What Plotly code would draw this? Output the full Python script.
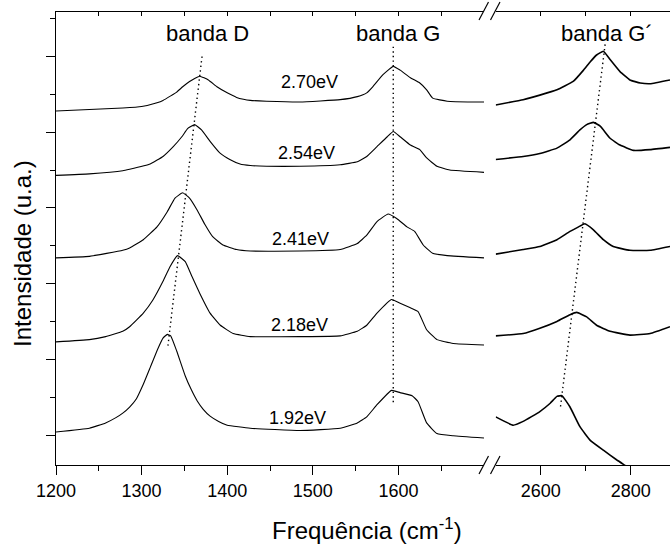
import plotly.graph_objects as go

# ---------------- data ----------------
# Left panel: D and G bands (cm^-1), intensities in arbitrary units (stacked)
f_270_L = [1200, 1239, 1278, 1300, 1318, 1325, 1334, 1341, 1348, 1356, 1362, 1368, 1378, 1388, 1400, 1411, 1419, 1427, 1446, 1485, 1532, 1552, 1563, 1570, 1582, 1594, 1602, 1614, 1625, 1633, 1640, 1657, 1687, 1700]
i_270_L = [4.28, 4.30, 4.32, 4.34, 4.39, 4.42, 4.48, 4.53, 4.60, 4.67, 4.71, 4.74, 4.69, 4.60, 4.52, 4.46, 4.435, 4.42, 4.41, 4.40, 4.43, 4.47, 4.52, 4.60, 4.76, 4.87, 4.82, 4.72, 4.65, 4.56, 4.45, 4.41, 4.40, 4.40]

f_254_L = [1200, 1239, 1278, 1286, 1310, 1325, 1337, 1347, 1354, 1362, 1370, 1380, 1392, 1403, 1415, 1427, 1446, 1485, 1532, 1552, 1563, 1575, 1587, 1594, 1602, 1614, 1625, 1633, 1645, 1660, 1700]
i_254_L = [3.43, 3.45, 3.49, 3.51, 3.58, 3.68, 3.81, 3.94, 4.05, 4.10, 4.03, 3.88, 3.72, 3.64, 3.58, 3.56, 3.55, 3.55, 3.57, 3.61, 3.68, 3.81, 3.94, 4.01, 3.94, 3.83, 3.77, 3.66, 3.55, 3.50, 3.47]

f_241_L = [1200, 1239, 1278, 1286, 1302, 1318, 1330, 1339, 1348, 1356, 1365, 1374, 1383, 1395, 1411, 1427, 1485, 1532, 1552, 1563, 1575, 1588, 1598, 1610, 1619, 1629, 1640, 1657, 1700]
i_241_L = [2.34, 2.36, 2.44, 2.47, 2.58, 2.75, 2.95, 3.13, 3.20, 3.13, 2.97, 2.78, 2.62, 2.51, 2.45, 2.43, 2.43, 2.45, 2.53, 2.64, 2.82, 2.92, 2.86, 2.75, 2.69, 2.51, 2.40, 2.37, 2.34]

f_218_L = [1200, 1239, 1258, 1278, 1286, 1302, 1313, 1325, 1333, 1342, 1351, 1359, 1368, 1380, 1392, 1407, 1427, 1485, 1532, 1552, 1563, 1575, 1592, 1602, 1614, 1623, 1633, 1645, 1664, 1700]
i_218_L = [1.23, 1.26, 1.30, 1.37, 1.43, 1.61, 1.78, 2.03, 2.22, 2.37, 2.29, 2.09, 1.87, 1.61, 1.45, 1.34, 1.30, 1.30, 1.31, 1.37, 1.45, 1.61, 1.79, 1.74, 1.68, 1.63, 1.39, 1.26, 1.21, 1.19]

f_192_L = [1200, 1239, 1258, 1270, 1278, 1286, 1294, 1302, 1310, 1319, 1325, 1330, 1334, 1341, 1351, 1358, 1365, 1372, 1380, 1390, 1400, 1427, 1485, 1532, 1552, 1563, 1575, 1592, 1602, 1616, 1623, 1633, 1645, 1664, 1700]
i_192_L = [0.04, 0.09, 0.16, 0.23, 0.29, 0.37, 0.48, 0.67, 0.89, 1.14, 1.28, 1.33, 1.31, 1.11, 0.78, 0.60, 0.45, 0.34, 0.25, 0.18, 0.13, 0.09, 0.06, 0.09, 0.16, 0.24, 0.40, 0.59, 0.56, 0.52, 0.44, 0.16, 0.02, -0.01, -0.04]

# Right panel: G' band (cm^-1)
f_270_R = [2500, 2561, 2598, 2636, 2672, 2695, 2710, 2724, 2739, 2754, 2776, 2798, 2821, 2843, 2887]
i_270_R = [4.36, 4.43, 4.49, 4.56, 4.67, 4.82, 4.93, 5.02, 5.07, 4.96, 4.80, 4.69, 4.65, 4.64, 4.69]

f_254_R = [2500, 2561, 2598, 2636, 2665, 2687, 2702, 2717, 2732, 2754, 2776, 2806, 2843, 2887]
i_254_R = [3.64, 3.68, 3.72, 3.79, 3.90, 4.03, 4.10, 4.13, 4.08, 3.92, 3.83, 3.76, 3.77, 3.80]

f_241_R = [2500, 2561, 2598, 2636, 2665, 2684, 2698, 2717, 2739, 2761, 2798, 2843, 2887]
i_241_R = [2.39, 2.45, 2.49, 2.58, 2.69, 2.75, 2.79, 2.71, 2.58, 2.49, 2.44, 2.44, 2.49]

f_218_R = [2500, 2561, 2598, 2636, 2665, 2680, 2702, 2724, 2754, 2798, 2843, 2887]
i_218_R = [1.31, 1.34, 1.41, 1.50, 1.59, 1.62, 1.56, 1.45, 1.37, 1.32, 1.34, 1.43]

f_192_R = [2500, 2539, 2561, 2598, 2621, 2636, 2647, 2665, 2687, 2710, 2739, 2769, 2787, 2800]
i_192_R = [0.24, 0.13, 0.18, 0.31, 0.42, 0.51, 0.52, 0.37, 0.11, -0.07, -0.20, -0.33, -0.40, -0.45]

# Dotted guides through the band maxima
guide_D_f = [1370.6, 1330.8]
guide_D_i = [5.00, 1.18]
guide_G_f = [1594, 1594]
guide_G_i = [5.13, 0.40]
guide_G2_f = [2742.9, 2643.8]
guide_G2_i = [5.16, 0.37]

energies = ["2.70eV", "2.54eV", "2.41eV", "2.18eV", "1.92eV"]
energy_label_f = [1496.7, 1493.2, 1486.2, 1484.5, 1482.1]
energy_label_i = [4.66, 3.73, 2.59, 1.45, 0.23]

band_names = ["banda D", "banda G", "banda G´"]
band_label_f = [1377, 1600, 2746.7]
band_label_axis = ["x", "x", "x2"]
band_label_i = 5.30

left_ticks = [1200, 1300, 1400, 1500, 1600]
left_minor = [1250, 1350, 1450, 1550, 1650]
right_ticks = [2600, 2800]
right_minor = [2700]

# ---------------- figure ----------------
W, H = 670, 549
ML, MR, MT, MB = 56, 0, 12, 84
PW, PH = W - ML - MR, H - MT - MB


def px(xp):
    return (xp - ML) / PW


def py(yp):
    return (H - MB - yp) / PH


FONT = "Arial, 'Liberation Sans', sans-serif"
fig = go.Figure()

left_series = [(f_270_L, i_270_L), (f_254_L, i_254_L), (f_241_L, i_241_L), (f_218_L, i_218_L), (f_192_L, i_192_L)]
right_series = [(f_270_R, i_270_R), (f_254_R, i_254_R), (f_241_R, i_241_R), (f_218_R, i_218_R), (f_192_R, i_192_R)]

for name, (fx, iy) in zip(energies, left_series):
    fig.add_trace(go.Scatter(x=fx, y=iy, mode="lines", name=name, xaxis="x", yaxis="y",
                             line=dict(color="black", width=1.1, shape="spline", smoothing=0.35),
                             showlegend=False))
for name, (fx, iy) in zip(energies, right_series):
    fig.add_trace(go.Scatter(x=fx, y=iy, mode="lines", name=name, xaxis="x2", yaxis="y",
                             line=dict(color="black", width=1.6, shape="spline", smoothing=0.35),
                             showlegend=False))

for gx, gy, ax in [(guide_D_f, guide_D_i, "x"), (guide_G_f, guide_G_i, "x"), (guide_G2_f, guide_G2_i, "x2")]:
    fig.add_trace(go.Scatter(x=gx, y=gy, mode="lines", xaxis=ax, yaxis="y", showlegend=False,
                             line=dict(color="black", width=1.4, dash="1.4px,3.2px")))

annotations = []
for txt, fx, iy in zip(energies, energy_label_f, energy_label_i):
    annotations.append(dict(text=txt, x=fx, y=iy, xref="x", yref="y", showarrow=False,
                            font=dict(family=FONT, size=18, color="black"),
                            xanchor="center", yanchor="middle"))
for txt, fx, ax in zip(band_names, band_label_f, band_label_axis):
    annotations.append(dict(text=txt, x=fx, y=band_label_i, xref=ax, yref="y", showarrow=False,
                            font=dict(family=FONT, size=22, color="black"),
                            xanchor="center", yanchor="middle"))
annotations.append(dict(text="Frequência (cm<sup>-1</sup>)", x=px(366.5), y=py(529), xref="paper", yref="paper",
                        showarrow=False, font=dict(family=FONT, size=24, color="black"),
                        xanchor="center", yanchor="middle"))
annotations.append(dict(text="Intensidade (u.a.)", x=px(22), y=py(254), xref="paper", yref="paper",
                        showarrow=False, textangle=-90, font=dict(family=FONT, size=24, color="black"),
                        xanchor="center", yanchor="middle"))

shapes = []
for yc in (465, 11):
    for x0, x1 in ((479, 488.5), (490.5, 500)):
        shapes.append(dict(type="line", xref="paper", yref="paper",
                           x0=px(x0), y0=py(yc + 9), x1=px(x1), y1=py(yc - 9),
                           line=dict(color="black", width=1.2)))

dom_left = [0, px(484)]
dom_right = [px(495.7), 1]

common_x = dict(showgrid=False, zeroline=False, showline=True, linecolor="black", linewidth=1,
                ticks="outside", ticklen=9, tickwidth=1, tickcolor="black",
                tickfont=dict(family=FONT, size=18, color="black"))

fig.update_layout(
    width=W, height=H, margin=dict(l=ML, r=MR, t=MT, b=MB),
    paper_bgcolor="white", plot_bgcolor="white", showlegend=False,
    xaxis=dict(domain=dom_left, range=[1200, 1700], anchor="y", tickvals=left_ticks,
               minor=dict(tickvals=left_minor, ticklen=5, ticks="outside", tickcolor="black"), **common_x),
    xaxis2=dict(domain=dom_right, range=[2500, 2887], anchor="y", tickvals=right_ticks,
                minor=dict(tickvals=right_minor, ticklen=5, ticks="outside", tickcolor="black"), **common_x),
    xaxis3=dict(domain=dom_left, range=[1200, 1700], overlaying="x", side="top", anchor="y",
                showgrid=False, zeroline=False, showline=True, linecolor="black", linewidth=1,
                ticks="inside", ticklen=4, tickcolor="black", showticklabels=False,
                tickvals=[1250, 1300, 1350, 1400, 1450, 1500, 1550, 1600, 1650]),
    xaxis4=dict(domain=dom_right, range=[2500, 2887], overlaying="x2", side="top", anchor="y",
                showgrid=False, zeroline=False, showline=True, linecolor="black", linewidth=1,
                ticks="inside", ticklen=4, tickcolor="black", showticklabels=False,
                tickvals=[2600, 2700, 2800]),
    yaxis=dict(domain=[0, 1], range=[-0.396, 5.588], anchor="x", showgrid=False, zeroline=False,
               showline=True, linecolor="black", linewidth=1, ticks="outside", ticklen=9,
               tickcolor="black", showticklabels=False, tick0=0, dtick=1,
               minor=dict(dtick=0.5, ticklen=5, ticks="outside", tickcolor="black")),
    annotations=annotations, shapes=shapes,
)

# invisible traces so the top overlay axes are drawn
fig.add_trace(go.Scatter(x=[1200], y=[0], xaxis="x3", yaxis="y", mode="markers",
                         marker=dict(opacity=0), hoverinfo="skip", showlegend=False))
fig.add_trace(go.Scatter(x=[2600], y=[0], xaxis="x4", yaxis="y", mode="markers",
                         marker=dict(opacity=0), hoverinfo="skip", showlegend=False))

fig.write_html("out.html")
